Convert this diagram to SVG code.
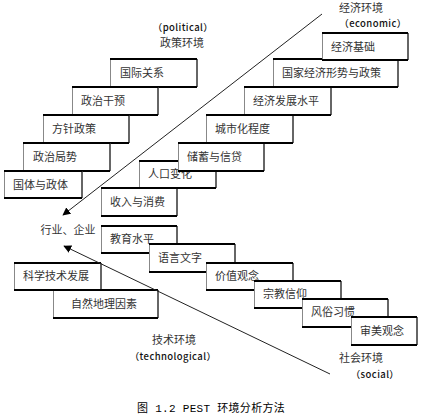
<svg xmlns="http://www.w3.org/2000/svg" width="433" height="418" viewBox="0 0 433 418">
<defs>
<style>
.bg{fill:#fff;stroke:none}
.tb{stroke:#000;stroke-width:2;fill:none}
.l{stroke:#888;stroke-width:1;fill:none}
.r{stroke:#333;stroke-width:1.5;fill:none}
.t{font-family:"Noto Sans CJK SC","Liberation Sans",sans-serif;font-size:11px;fill:#333}
.h{font-family:"Noto Sans CJK SC","Liberation Sans",sans-serif;font-size:11px;fill:#333;text-anchor:middle}
.e{font-family:"Noto Sans CJK SC","DejaVu Sans",sans-serif;font-size:9.5px;font-weight:500;letter-spacing:0.4px;fill:#111;text-anchor:middle}
.cap{font-family:"Liberation Mono","Noto Sans CJK SC",monospace;font-size:11px;letter-spacing:0.3px;fill:#000;text-anchor:middle}
.ln{stroke:#222;stroke-width:1;fill:none}
</style>
<marker id="ah" viewBox="0 0 10 10" refX="9" refY="5" markerWidth="8" markerHeight="8" markerUnits="userSpaceOnUse" orient="auto">
<path d="M0,0 L10,5 L0,10 z" fill="#000"/>
</marker>
</defs>
<rect width="433" height="418" fill="#fff"/>

<g id="political-boxes">
<g id="p1"><rect class="bg" x="110" y="59" width="87" height="28"/><path class="l" d="M110.5,59V87"/><path class="r" d="M197,59V87"/><path class="tb" d="M110,59H197M110,87H197"/><text class="t" x="120" y="77">国际关系</text></g>
<g id="p2"><rect class="bg" x="72" y="87" width="86" height="28"/><path class="l" d="M72.5,87V115"/><path class="r" d="M158,87V115"/><path class="tb" d="M72,87H158M72,115H158"/><text class="t" x="81" y="105">政治干预</text></g>
<g id="p3"><rect class="bg" x="43" y="115" width="86" height="28"/><path class="l" d="M43.5,115V143"/><path class="r" d="M129,115V143"/><path class="tb" d="M43,115H129M43,143H129"/><text class="t" x="52" y="133">方针政策</text></g>
<g id="p4"><rect class="bg" x="23" y="143" width="87" height="28"/><path class="l" d="M23.5,143V171"/><path class="r" d="M110,143V171"/><path class="tb" d="M23,143H110M23,171H110"/><text class="t" x="33" y="161">政治局势</text></g>
<g id="p5"><rect class="bg" x="4" y="171" width="78" height="27"/><path class="l" d="M4.5,171V198"/><path class="r" d="M82,171V198"/><path class="tb" d="M4,171H82M4,198H82"/><text class="t" x="13" y="189">国体与政体</text></g>
</g>

<g id="economic-boxes">
<g id="e1"><rect class="bg" x="101" y="188" width="76" height="28"/><path class="l" d="M101.5,188V216"/><path class="r" d="M177,188V216"/><path class="tb" d="M101,188H177M101,216H177"/><text class="t" x="110" y="206">收入与消费</text></g>
<g id="e2"><rect class="bg" x="139" y="161" width="77" height="27"/><path class="l" d="M139.5,161V188"/><path class="r" d="M216,161V188"/><path class="tb" d="M139,161H216M139,188H216"/><text class="t" x="148" y="178">人口变化</text></g>
<g id="e3"><rect class="bg" x="178" y="143" width="86" height="28"/><path class="l" d="M178.5,143V171"/><path class="r" d="M264,143V171"/><path class="tb" d="M178,143H264M178,171H264"/><text class="t" x="187" y="161">储蓄与信贷</text></g>
<g id="e4"><rect class="bg" x="206" y="115" width="87" height="28"/><path class="l" d="M206.5,115V143"/><path class="r" d="M293,115V143"/><path class="tb" d="M206,115H293M206,143H293"/><text class="t" x="215" y="133">城市化程度</text></g>
<g id="e5"><rect class="bg" x="244" y="87" width="87" height="28"/><path class="l" d="M244.5,87V115"/><path class="r" d="M331,87V115"/><path class="tb" d="M244,87H331M244,115H331"/><text class="t" x="253" y="105">经济发展水平</text></g>
<g id="e6"><rect class="bg" x="273" y="59" width="125" height="28"/><path class="l" d="M273.5,59V87"/><path class="r" d="M398,59V87"/><path class="tb" d="M273,59H398M273,87H398"/><text class="t" x="282" y="77">国家经济形势与政策</text></g>
<g id="e7"><rect class="bg" x="322" y="33" width="86" height="27"/><path class="l" d="M322.5,33V60"/><path class="r" d="M408,33V60"/><path class="tb" d="M322,33H408M322,60H408"/><text class="t" x="331" y="51">经济基础</text></g>
</g>

<g id="social-boxes">
<g id="s1"><rect class="bg" x="101" y="226" width="76" height="27"/><path class="l" d="M101.5,226V253"/><path class="r" d="M177,226V253"/><path class="tb" d="M101,226H177M101,253H177"/><text class="t" x="110" y="243">教育水平</text></g>
<g id="s2"><rect class="bg" x="149" y="244" width="86" height="28"/><path class="l" d="M149.5,244V272"/><path class="r" d="M235,244V272"/><path class="tb" d="M149,244H235M149,272H235"/><text class="t" x="158" y="262">语言文字</text></g>
<g id="s3"><rect class="bg" x="206" y="263" width="87" height="27"/><path class="l" d="M206.5,263V290"/><path class="r" d="M293,263V290"/><path class="tb" d="M206,263H293M206,290H293"/><text class="t" x="215" y="280">价值观念</text></g>
<g id="s4"><rect class="bg" x="254" y="281" width="87" height="27"/><path class="l" d="M254.5,281V308"/><path class="r" d="M341,281V308"/><path class="tb" d="M254,281H341M254,308H341"/><text class="t" x="263" y="298">宗教信仰</text></g>
<g id="s5"><rect class="bg" x="302" y="299" width="86" height="28"/><path class="l" d="M302.5,299V327"/><path class="r" d="M388,299V327"/><path class="tb" d="M302,299H388M302,327H388"/><text class="t" x="311" y="316">风俗习惯</text></g>
<g id="s6"><rect class="bg" x="351" y="317" width="66" height="28"/><path class="l" d="M351.5,317V345"/><path class="r" d="M417,317V345"/><path class="tb" d="M351,317H417M351,345H417"/><text class="t" x="360" y="335">审美观念</text></g>
</g>

<g id="tech-boxes">
<g id="t1"><rect class="bg" x="14" y="263" width="87" height="27"/><path class="l" d="M14.5,263V290"/><path class="r" d="M101,263V290"/><path class="tb" d="M14,263H101M14,290H101"/><text class="t" x="23" y="280">科学技术发展</text></g>
<g id="t2"><rect class="bg" x="53" y="290" width="105" height="28"/><path class="l" d="M53.5,290V318"/><path class="r" d="M158,290V318"/><path class="tb" d="M53,290H158M53,318H158"/><text class="t" x="71" y="308">自然地理因素</text></g>
</g>

<g id="connectors">
<line class="ln" x1="322" y1="14" x2="63" y2="215" marker-end="url(#ah)"/>
<line class="ln" x1="330" y1="374" x2="64" y2="246" marker-end="url(#ah)"/>
</g>

<g id="labels">
<text class="e" x="183" y="31">（political）</text>
<text class="h" x="182" y="47">政策环境</text>
<text class="h" x="361" y="12">经济环境</text>
<text class="e" x="373" y="27">（economic）</text>
<text class="h" x="68" y="234">行业、企业</text>
<text class="h" x="174" y="344">技术环境</text>
<text class="e" x="173" y="360">（technological）</text>
<text class="h" x="361" y="362">社会环境</text>
<text class="e" x="375" y="378">（social）</text>
<text class="cap" x="211" y="412">图 1.2  PEST 环境分析方法</text>
</g>
</svg>
